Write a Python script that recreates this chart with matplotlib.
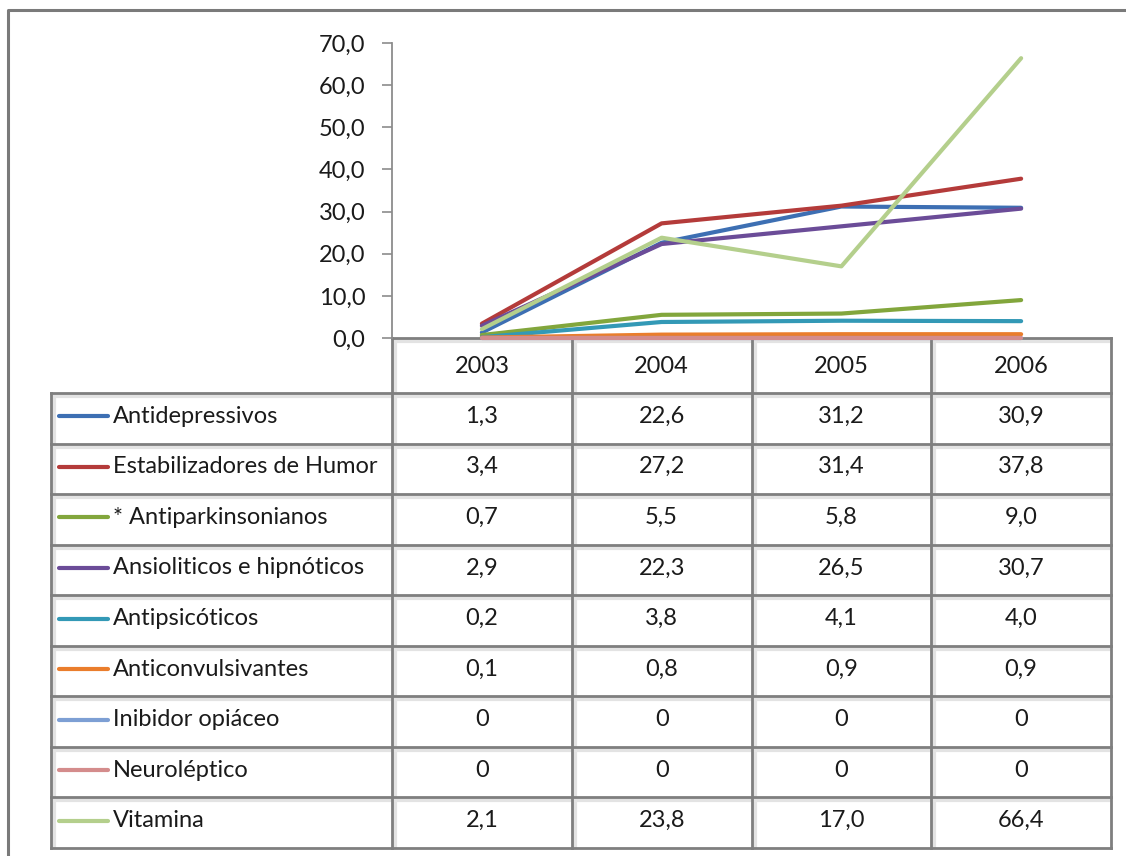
import matplotlib
matplotlib.use("Agg")
import matplotlib.pyplot as plt

years = ["2003", "2004", "2005", "2006"]
series_names = ["Antidepressivos", "Estabilizadores de Humor", "* Antiparkinsonianos",
                "Ansioliticos e hipnóticos", "Antipsicóticos", "Anticonvulsivantes",
                "Inibidor opiáceo", "Neuroléptico", "Vitamina"]
antidepressivos = [1.3, 22.6, 31.2, 30.9]
estabilizadores = [3.4, 27.2, 31.4, 37.8]
antiparkinsonianos = [0.7, 5.5, 5.8, 9.0]
ansioliticos = [2.9, 22.3, 26.5, 30.7]
antipsicoticos = [0.2, 3.8, 4.1, 4.0]
anticonvulsivantes = [0.1, 0.8, 0.9, 0.9]
inibidor = [0, 0, 0, 0]
neuroleptico = [0, 0, 0, 0]
vitamina = [2.1, 23.8, 17.0, 66.4]
series_values = [antidepressivos, estabilizadores, antiparkinsonianos, ansioliticos,
                 antipsicoticos, anticonvulsivantes, inibidor, neuroleptico, vitamina]
colors = ["#3d6fb3", "#b43b3a", "#82a63c", "#6b4c98", "#3399b6", "#ea7d2c",
          "#7d9fd4", "#d48c8c", "#b4cf8c"]
yticks = [0, 10, 20, 30, 40, 50, 60, 70]

FONT = "Lato"
FS = 17
TXT = "#1a1a1a"
W, H = 1126, 856
fig = plt.figure(figsize=(W / 100, H / 100), dpi=100)
fig.patch.set_facecolor("white")

bg = fig.add_axes([0, 0, 1, 1])
bg.set_xlim(0, W)
bg.set_ylim(H, 0)
bg.axis("off")

grid_c = "#7f7f7f"
bg.plot([8, 8, W + 5], [H + 5, 10, 10], color="#7a7a7a", lw=2.2, solid_capstyle="butt")

x_left, x_right = 392, 1111
y_top, y_bot = 43, 338
ax = fig.add_axes([x_left / W, 1 - y_bot / H, (x_right - x_left) / W, (y_bot - y_top) / H])
ax.set_facecolor("none")
ax.set_xlim(-0.5, 3.5)
ax.set_ylim(0, 70)
for i, (vals, c) in enumerate(zip(series_values, colors)):
    ax.plot(range(len(years)), vals, color=c, lw=3.0, solid_capstyle="round",
            zorder=3 + i * 0.01, clip_on=False)
for s in ["top", "right", "bottom"]:
    ax.spines[s].set_visible(False)
ax.spines["left"].set_color("#8c8c8c")
ax.spines["left"].set_linewidth(1.3)
ax.set_xticks([])
ax.set_yticks(yticks)
ax.set_yticklabels([f"{v:.1f}".replace(".", ",") for v in yticks],
                   fontfamily=FONT, fontsize=FS, color=TXT)
ax.tick_params(axis="y", length=7, width=1.2, color="#8c8c8c", pad=12)

col_edges = [392 + k * (x_right - x_left) / 4 for k in range(5)]
row_top = 393
row_h = (848 - 393) / 9
row_edges = [row_top + k * row_h for k in range(10)]
tbl_left = 51
lw_t = 2.0
shadow = "#e3e3e3"
for k in range(9):
    y0 = row_edges[k]
    bg.plot([tbl_left + 2, col_edges[-1] - 2], [y0 + 3, y0 + 3], color=shadow, lw=3, zorder=1)
for xk in [tbl_left] + col_edges[:-1]:
    bg.plot([xk + 3, xk + 3], [row_top + 2, row_edges[-1] - 2], color=shadow, lw=3, zorder=1)
for xk in col_edges[:-1]:
    bg.plot([xk + 3, xk + 3], [y_bot + 2, row_top - 2], color=shadow, lw=3, zorder=1)
bg.plot([col_edges[0] + 2, col_edges[-1] - 2], [y_bot + 3, y_bot + 3], color=shadow, lw=3, zorder=1)

bg.plot([col_edges[0], col_edges[-1]], [y_bot, y_bot], color=grid_c, lw=lw_t, zorder=2)
for xk in col_edges:
    bg.plot([xk, xk], [y_bot, row_edges[-1]], color=grid_c, lw=lw_t, zorder=2)
for yk in row_edges:
    bg.plot([tbl_left, col_edges[-1]], [yk, yk], color=grid_c, lw=lw_t, zorder=2)
bg.plot([tbl_left, tbl_left], [row_top, row_edges[-1]], color=grid_c, lw=lw_t, zorder=2)

for j, yr in enumerate(years):
    bg.text((col_edges[j] + col_edges[j + 1]) / 2, (y_bot + row_top) / 2 + 1, yr,
            ha="center", va="center", fontfamily=FONT, fontsize=FS, color=TXT)

for i, (name, vals, c) in enumerate(zip(series_names, series_values, colors)):
    yc = (row_edges[i] + row_edges[i + 1]) / 2 - 2
    bg.plot([59, 108], [yc, yc], color=c, lw=3.0, solid_capstyle="round", zorder=3)
    bg.text(113, yc, name, ha="left", va="center", fontfamily=FONT, fontsize=FS, color=TXT)
    for j, v in enumerate(vals):
        s = "0" if v == 0 else f"{v:.1f}".replace(".", ",")
        bg.text((col_edges[j] + col_edges[j + 1]) / 2, yc, s, ha="center", va="center",
                fontfamily=FONT, fontsize=FS, color=TXT)

fig.savefig("out.png", dpi=100, facecolor="white")
